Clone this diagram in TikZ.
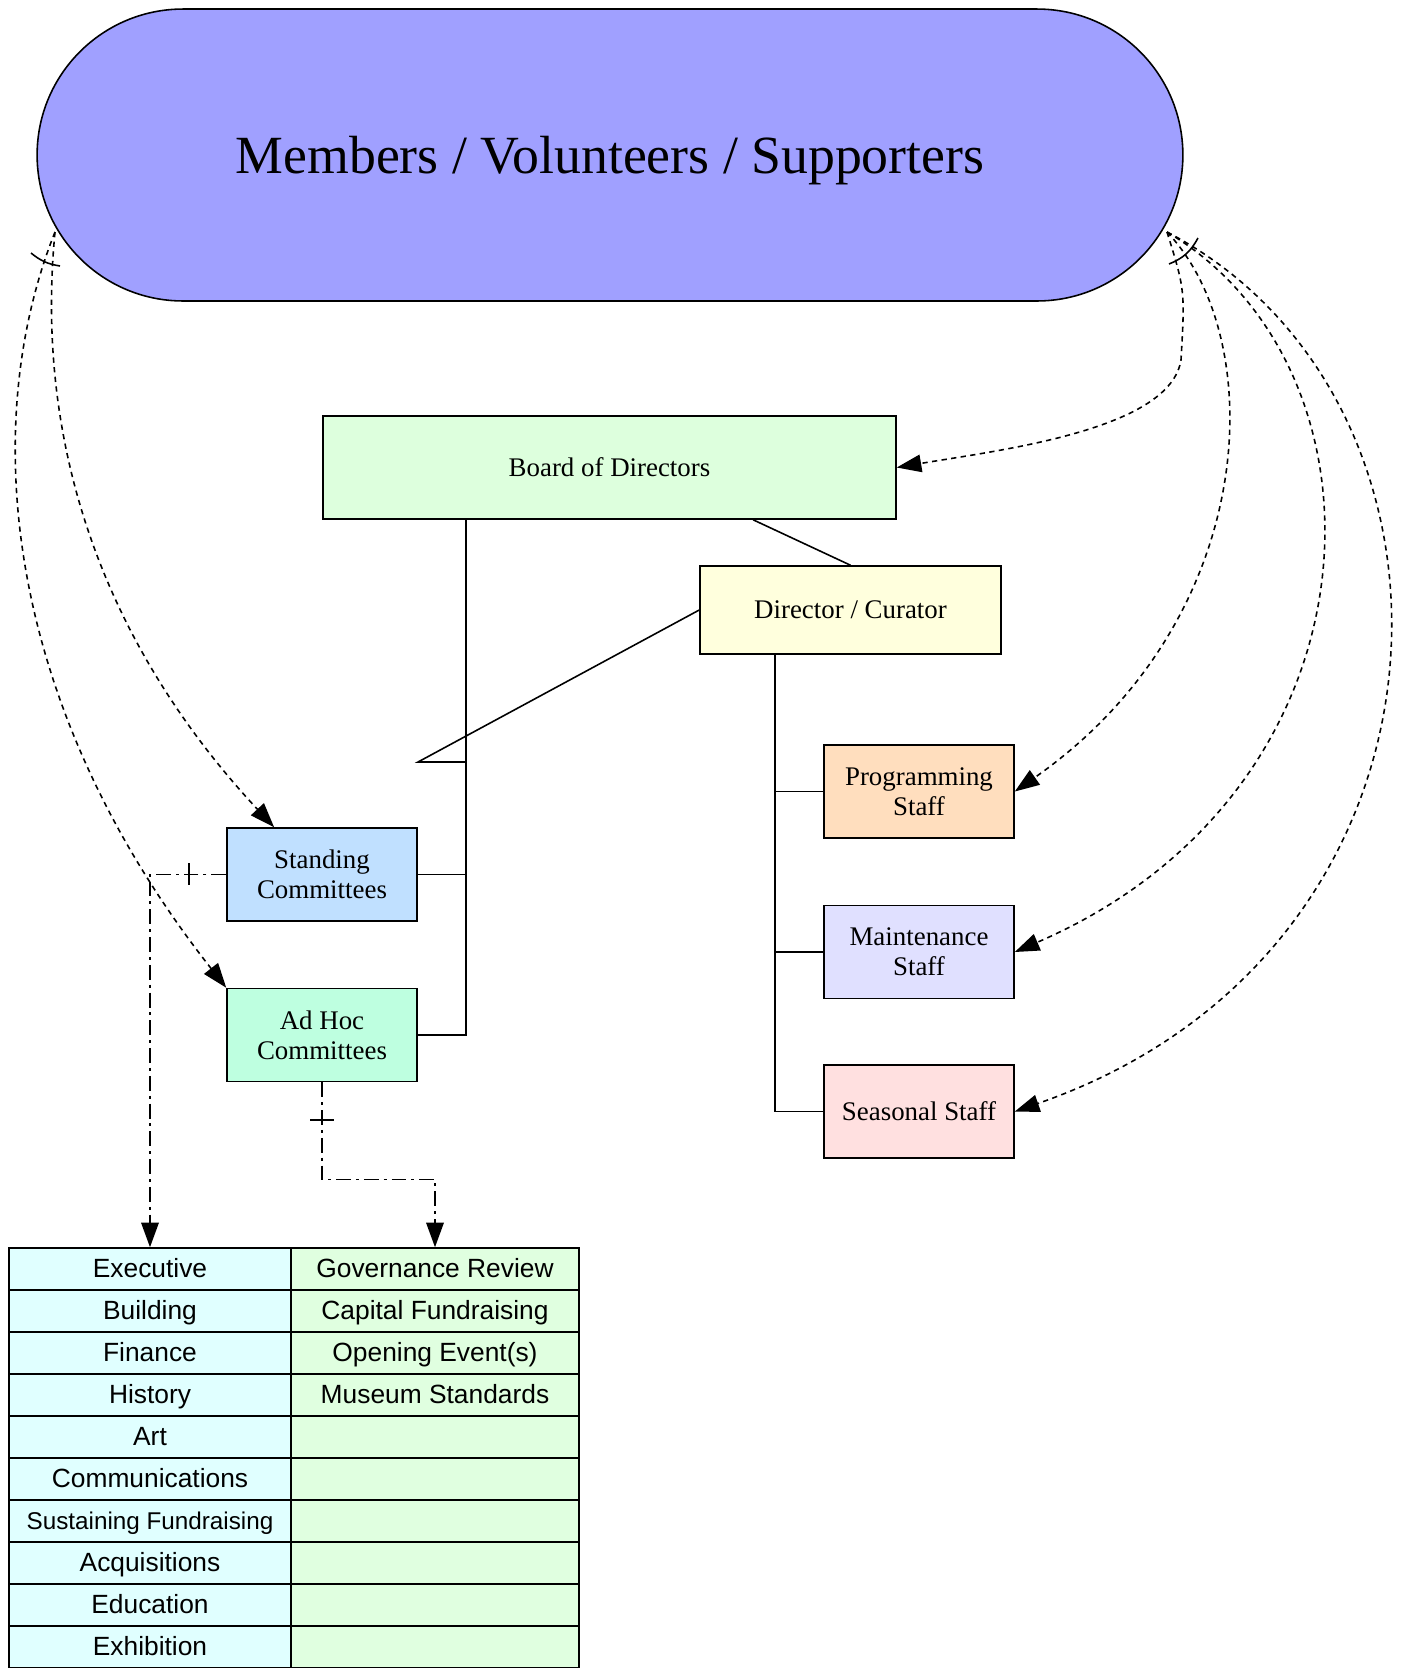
\documentclass[tikz,border=0pt]{standalone}
\usepackage{fontspec}
\setmainfont{Liberation Serif}
\newfontfamily\cellfont{Liberation Sans}
\usepackage{tikz}
\usetikzlibrary{arrows.meta, calc}

\definecolor{memberblue}{RGB}{160,160,255}
\definecolor{boardgreen}{RGB}{221,255,221}
\definecolor{directoryellow}{RGB}{255,255,221}
\definecolor{progpeach}{RGB}{255,222,190}
\definecolor{maintlavender}{RGB}{224,224,255}
\definecolor{seasonpink}{RGB}{255,224,224}
\definecolor{standingblue}{RGB}{192,224,255}
\definecolor{adhocmint}{RGB}{190,255,224}
\definecolor{cellcyan}{RGB}{224,255,255}
\definecolor{cellgreen}{RGB}{224,255,224}

\begin{document}
\begin{tikzpicture}[
        x=0.02cm, y=-0.02cm,
        box/.style={draw, line width=0.9pt, align=center, font=\fontsize{15.3}{17}\selectfont,
            minimum width=3.8cm, minimum height=1.86cm},
        link/.style={line width=0.9pt},
        support/.style={line width=0.9pt, dash pattern=on 3pt off 2.5pt, -{Triangle[length=14pt,width=10pt]}},
        assign/.style={line width=0.9pt, dash pattern=on 8.5pt off 2.8pt on 1.7pt off 2.8pt, -{Triangle[length=14pt,width=10pt]}},
        cell/.style={draw, line width=0.9pt, minimum height=0.84cm, text height=12pt, text depth=1.8pt,
            font=\cellfont\fontsize{15}{18}\selectfont}
    ]
        \useasboundingbox (0,0) rectangle (1403,1668);

        % Members
        \node[draw, line width=0.9pt, fill=memberblue, rounded corners=2.92cm, minimum width=22.92cm,
            minimum height=5.84cm, text depth=0pt, font=\fontsize{30.6}{36}\selectfont] (members) at (610,155) {Members / Volunteers / Supporters};

        % Board and staff
        \node[box, fill=boardgreen, minimum width=11.46cm, minimum height=2.06cm] (board) at (609.5,467.5) {Board of Directors};
        \node[box, fill=directoryellow, minimum width=6.02cm, minimum height=1.76cm] (director) at (850.5,610) {Director / Curator};
        \node[box, fill=progpeach] (programming) at (919,791.5) {Programming\\Staff};
        \node[box, fill=maintlavender] (maintenance) at (919,952) {Maintenance\\Staff};
        \node[box, fill=seasonpink] (seasonal) at (919,1111.5) {Seasonal Staff};

        % Committees
        \node[box, fill=standingblue] (standing) at (322,874.5) {Standing\\Committees};
        \node[box, fill=adhocmint] (adhoc) at (322,1035) {Ad Hoc\\Committees};

        % Committee table
        \foreach \name [count=\i] in {Executive, Building, Finance, History, Art, Communications,
            {\fontsize{13.8}{16}\selectfont Sustaining Fundraising}, Acquisitions, Education, Exhibition}
            \node[cell, fill=cellcyan, minimum width=5.64cm] (sc\i) at (150,{1227+42*\i}) {\name};
        \foreach \name [count=\i] in {Governance Review, Capital Fundraising, Opening Event(s),
            Museum Standards, {}, {}, {}, {}, {}, {}}
            \node[cell, fill=cellgreen, minimum width=5.76cm] (ah\i) at (435,{1227+42*\i}) {\name};

        % Reporting lines
        \coordinate (trunk) at (466,762);
        \coordinate (bend) at (418,762);
        \draw[link] (trunk |- board.south) -- (trunk |- adhoc.east) -- (adhoc.east);
        \draw[link] (standing.east) -- (trunk |- standing.east);
        \draw[link] (director.west) -- (bend) -- (trunk);
        \draw[link] ($(board.south east)!0.25!(board.south west)$) -- (director.north);
        \coordinate (dtrunk) at ($(director.south west)!0.25!(director.south east)$);
        \draw[link] (dtrunk) |- (seasonal.west);
        \foreach \n in {programming, maintenance}
            \draw[link] (dtrunk |- \n.west) -- (\n.west);

        % Support from members
        \coordinate (mL) at (55,232);
        \coordinate (mR) at (1167,232);
        \draw[support] (mL) .. controls (35,440) and (100,640) .. ($(standing.north west)!0.25!(standing.north east)$);
        \draw[support] (mL) .. controls (-20,420) and (0,700) .. (adhoc.north west);
        \draw[support] (mR) .. controls (1185,290) .. (1181,360) .. controls (1170,430) and (1000,450) .. (board.east);
        \draw[support] (mR) .. controls (1270,340) and (1260,620) .. (programming.east);
        \draw[support] (mR) .. controls (1400,370) and (1390,790) .. (maintenance.east);
        \draw[support] (mR) .. controls (1490,400) and (1480,950) .. (seasonal.east);
        \draw[link] (31,253) to[bend right=15] (60,266);
        \draw[link] (1169,264) to[bend right=20] (1198,238);

        % Committees to table
        \draw[assign] (standing.west) -| (sc1.north);
        \draw[assign] (adhoc.south) -- ++(0,97) -| (ah1.north);
        \draw[link] (189,863) -- (189,885);
        \draw[link] (310,1120) -- (334,1120);
    \end{tikzpicture}
\end{document}
